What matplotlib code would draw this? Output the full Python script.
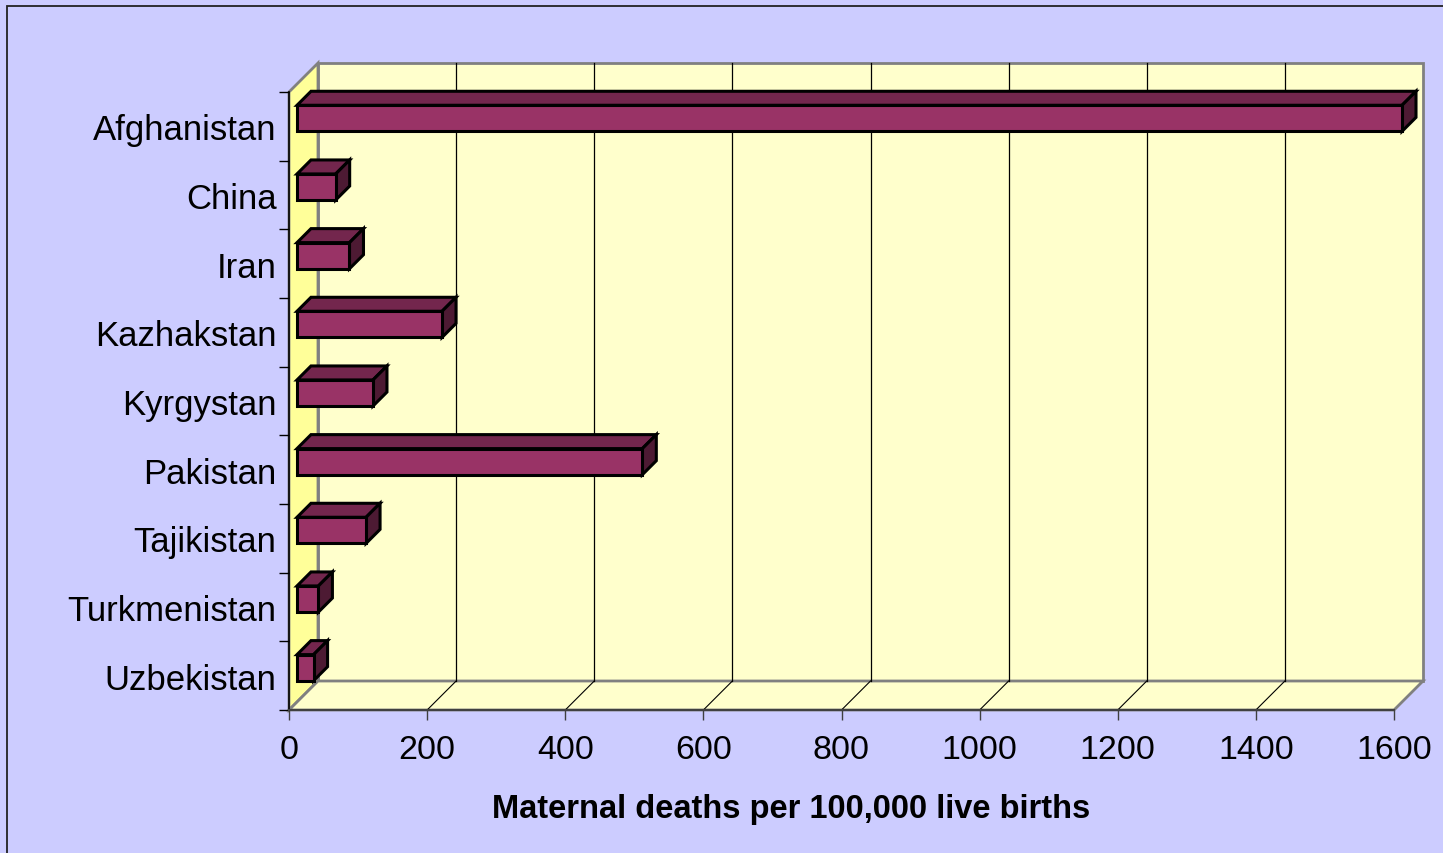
import matplotlib
matplotlib.use('Agg')
import matplotlib.pyplot as plt
import matplotlib.transforms as mtransforms
from matplotlib.patches import Polygon, Rectangle
from matplotlib.lines import Line2D

countries = ['Afghanistan', 'China', 'Iran', 'Kazhakstan', 'Kyrgystan',
             'Pakistan', 'Tajikistan', 'Turkmenistan', 'Uzbekistan']
deaths = [1600, 56, 76, 210, 110, 500, 100, 31, 24]
xticks = [0, 200, 400, 600, 800, 1000, 1200, 1400, 1600]
xlabel = 'Maternal deaths per 100,000 live births'

plt.rcParams['font.family'] = ['Liberation Sans', 'DejaVu Sans']

W, H = 1443, 854
fig = plt.figure(figsize=(W / 100, H / 100), dpi=100)
fig.patch.set_facecolor('#CCCCFF')

# front plane of the 3d box
ax = fig.add_axes([289 / W, 143 / H, 1105 / W, 618 / H])
ax.set_facecolor('none')
n = len(countries)
ax.set_xlim(0, xticks[-1])
ax.set_ylim(n, 0)

DEPTH = 29  # px, depth of the box
ident = mtransforms.IdentityTransform()


def pt(x, y, d):
    px, py = ax.transData.transform((x, y))
    return (px + d * DEPTH, py + d * DEPTH)


def poly(pts, fc, ec, lw, z):
    ax.add_patch(Polygon(pts, closed=True, facecolor=fc, edgecolor=ec, lw=lw,
                         transform=ident, clip_on=False, zorder=z,
                         joinstyle='miter'))


xmax = xticks[-1]
# walls
poly([pt(0, 0, 1), pt(xmax, 0, 1), pt(xmax, n, 1), pt(0, n, 1)], '#FFFFCC', '#808080', 2, 0.1)
poly([pt(0, 0, 0), pt(0, 0, 1), pt(0, n, 1), pt(0, n, 0)], '#FFFF99', '#808080', 2, 0.2)
poly([pt(0, n, 0), pt(xmax, n, 0), pt(xmax, n, 1), pt(0, n, 1)], '#FFFFCC', '#808080', 2, 0.2)

# gridlines
for xv in xticks[1:-1]:
    a, b = pt(xv, 0, 1), pt(xv, n, 1)
    ax.add_line(Line2D([a[0], b[0]], [a[1], b[1]], color='black', lw=0.9,
                       transform=ident, clip_on=False, zorder=0.3))
    a, b = pt(xv, n, 0), pt(xv, n, 1)
    ax.add_line(Line2D([a[0], b[0]], [a[1], b[1]], color='black', lw=0.8,
                       transform=ident, clip_on=False, zorder=0.3))

# bars
h = 0.19
d0, d1 = 8 / 29, 22 / 29
for i, v in enumerate(deaths):
    c = i + 0.5
    poly([pt(0, c - h, d0), pt(v, c - h, d0), pt(v, c - h, d1), pt(0, c - h, d1)],
         '#73264D', 'black', 2.2, 1)
    poly([pt(v, c - h, d0), pt(v, c + h, d0), pt(v, c + h, d1), pt(v, c - h, d1)],
         '#4D1A33', 'black', 2.2, 1)
    poly([pt(0, c - h, d0), pt(v, c - h, d0), pt(v, c + h, d0), pt(0, c + h, d0)],
         '#993366', 'black', 2.2, 1.1)

# axes
for s in ['top', 'right']:
    ax.spines[s].set_visible(False)
ax.spines['left'].set_color('black')
ax.spines['bottom'].set_color('#404040')
ax.spines['left'].set_linewidth(1.2)
ax.spines['bottom'].set_linewidth(1.5)
ax.set_xticks(xticks)
ax.set_xticklabels([str(t) for t in xticks], fontsize=24.5)
ax.tick_params(axis='x', length=7, width=1, color='#404040', pad=10)
ax.set_yticks([i + 0.5 for i in range(n)])
ax.set_yticklabels(countries, fontsize=25)
ax.set_yticks(range(n + 1), minor=True)
ax.tick_params(axis='y', which='major', length=0, pad=9)
ax.tick_params(axis='y', which='minor', length=7, width=1, color='black')

fig.text(791.5 / W, 1 - 810 / H, xlabel, ha='center', va='center',
         fontsize=23.5, fontweight='bold')

# chart area border
fig.add_artist(Rectangle((6.5 / W, -0.1), 1.2, 1.1 - 6.5 / H, transform=fig.transFigure,
                         fill=False, edgecolor='#222222', lw=1.3))

fig.savefig('out.png', dpi=100, facecolor=fig.get_facecolor())
